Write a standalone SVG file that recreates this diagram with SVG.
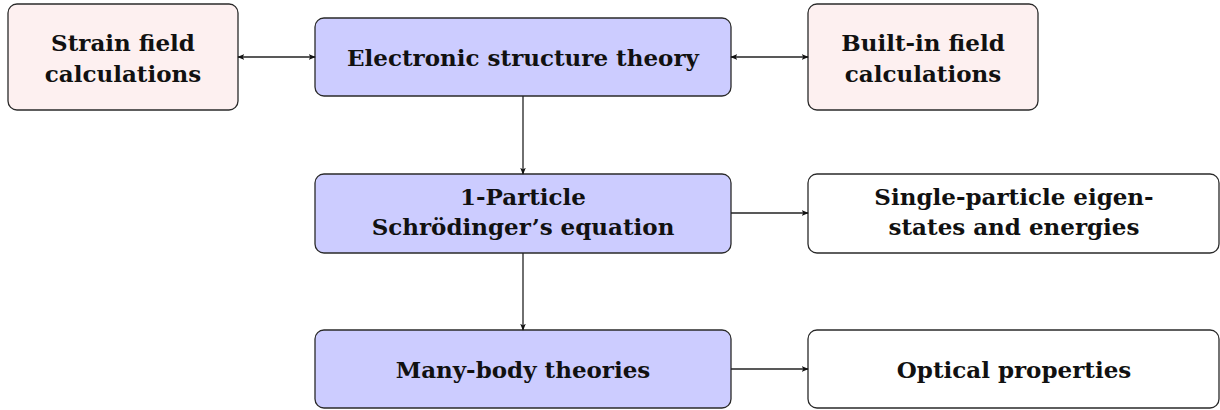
<svg xmlns="http://www.w3.org/2000/svg" width="1220" height="410" viewBox="0 0 1220 410">
<style>
.box{stroke:#2a2a2a;stroke-width:1.3}
.blue{fill:#ccccff}
.pink{fill:#fdf0f0}
.white{fill:#ffffff}
text{font-family:"DejaVu Serif","Liberation Serif",serif;font-weight:bold;font-size:23px;fill:#111;text-anchor:middle}
.conn{stroke:#222;stroke-width:1.3;fill:none}
</style>
<defs>
<marker id="ah" viewBox="0 0 10 10" refX="9" refY="5" markerWidth="7" markerHeight="7" markerUnits="userSpaceOnUse" orient="auto-start-reverse">
<path d="M0,1 L10,5 L0,9 L2.5,5 Z" fill="#111"/>
</marker>
</defs>
<rect width="1220" height="410" fill="#fff"/>
<g id="strain"><rect class="box pink" x="8" y="4" width="230" height="106" rx="9"/><text x="123" y="51">Strain field</text><text x="123" y="82">calculations</text></g>
<g id="electronic"><rect class="box blue" x="315" y="18" width="416" height="78" rx="9"/><text x="523" y="66">Electronic structure theory</text></g>
<g id="builtin"><rect class="box pink" x="808" y="4" width="230" height="106" rx="9"/><text x="923" y="51">Built-in field</text><text x="923" y="82">calculations</text></g>
<g id="particle"><rect class="box blue" x="315" y="174" width="416" height="79" rx="9"/><text x="523" y="205">1-Particle</text><text x="523" y="235">Schrödinger’s equation</text></g>
<g id="single"><rect class="box white" x="808" y="174" width="411" height="79" rx="9"/><text x="1014" y="205">Single-particle eigen-</text><text x="1014" y="235">states and energies</text></g>
<g id="manybody"><rect class="box blue" x="315" y="330" width="416" height="78" rx="9"/><text x="523" y="378">Many-body theories</text></g>
<g id="optical"><rect class="box white" x="808" y="330" width="411" height="78" rx="9"/><text x="1014" y="378">Optical properties</text></g>
<g id="connectors">
<line class="conn" x1="238" y1="57" x2="315" y2="57" marker-start="url(#ah)" marker-end="url(#ah)"/>
<line class="conn" x1="731" y1="57" x2="808" y2="57" marker-start="url(#ah)" marker-end="url(#ah)"/>
<line class="conn" x1="523" y1="96" x2="523" y2="174" marker-end="url(#ah)"/>
<line class="conn" x1="523" y1="253" x2="523" y2="330" marker-end="url(#ah)"/>
<line class="conn" x1="731" y1="213" x2="808" y2="213" marker-end="url(#ah)"/>
<line class="conn" x1="731" y1="369" x2="808" y2="369" marker-end="url(#ah)"/>
</g>
</svg>
